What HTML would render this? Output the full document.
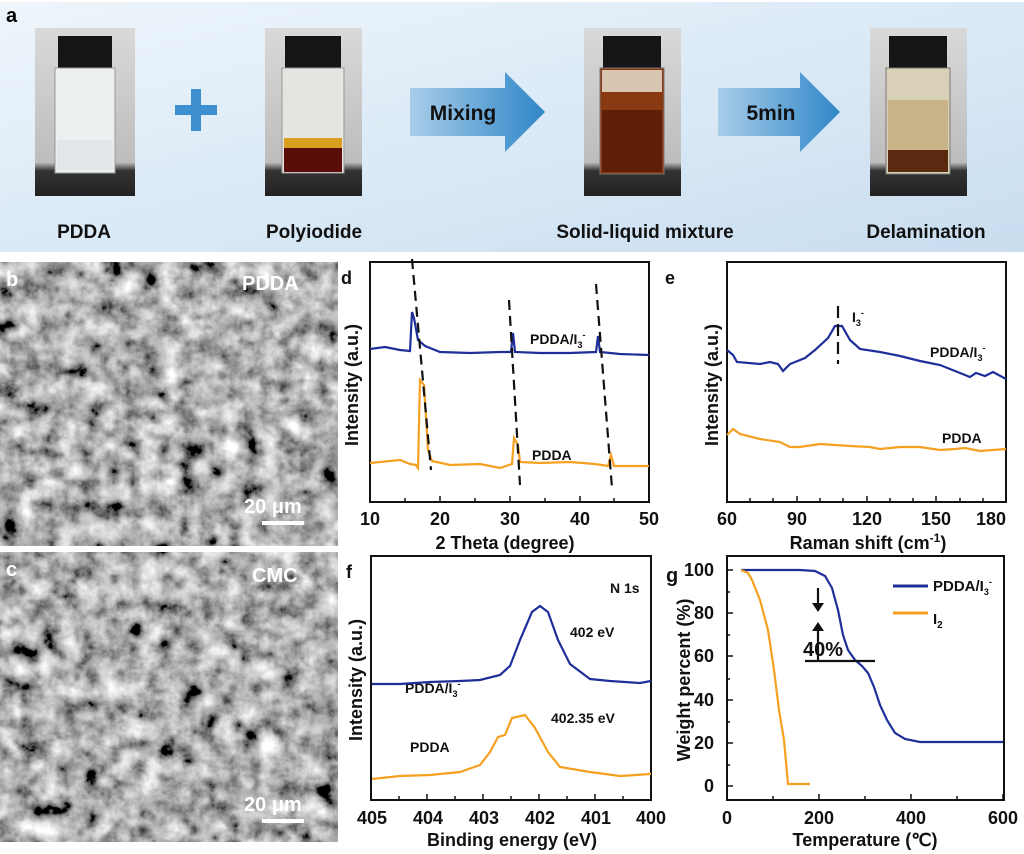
<!DOCTYPE html>
<html><head><meta charset="utf-8"><style>
body{margin:0;background:#fff;}
svg{display:block;font-family:"Liberation Sans",Arial,sans-serif;}
.b{font-weight:bold;}
</style></head><body>
<svg width="1024" height="854" viewBox="0 0 1024 854" xmlns="http://www.w3.org/2000/svg">
<defs>
<linearGradient id="bg" x1="0" y1="0" x2="1" y2="1">
<stop offset="0" stop-color="#eef5fb"/><stop offset="0.5" stop-color="#dbeaf6"/><stop offset="1" stop-color="#c9ddf0"/></linearGradient>
<linearGradient id="arr" x1="0" x2="1"><stop offset="0" stop-color="#a9cde9"/><stop offset="1" stop-color="#2f86c8"/></linearGradient>
<filter id="sem" x="0" y="0" width="100%" height="100%">
<feTurbulence type="fractalNoise" baseFrequency="0.05" numOctaves="4" seed="3"/>
<feColorMatrix type="matrix" values="0.33 0.33 0.33 0 0  0.33 0.33 0.33 0 0  0.33 0.33 0.33 0 0  0 0 0 0 1"/>
<feComponentTransfer><feFuncR type="linear" slope="2.6" intercept="-0.85"/><feFuncG type="linear" slope="2.6" intercept="-0.85"/><feFuncB type="linear" slope="2.6" intercept="-0.85"/></feComponentTransfer>
</filter>
<linearGradient id="photo" x1="0" x2="0" y1="0" y2="1"><stop offset="0" stop-color="#d9d9d9"/><stop offset="0.8" stop-color="#bdbdbd"/><stop offset="0.85" stop-color="#333"/><stop offset="1" stop-color="#222"/></linearGradient>
</defs>
<rect x="0" y="2" width="1024" height="250" fill="url(#bg)"/>
<text x="6" y="22" font-size="20" class="b">a</text>
<g>
<rect x="35" y="28" width="100" height="168" fill="url(#photo)"/>
<rect x="58" y="36" width="54" height="32" fill="#151515"/><rect x="55" y="68" width="60" height="105" fill="#eceff0" stroke="#999"/>
<rect x="57" y="140" width="56" height="30" fill="#e2e6e8"/>
<rect x="265" y="28" width="97" height="168" fill="url(#photo)"/>
<rect x="285" y="36" width="56" height="32" fill="#151515"/><rect x="282" y="68" width="62" height="105" fill="#e6e4e0" stroke="#999"/>
<rect x="284" y="138" width="58" height="10" fill="#d9a020"/><rect x="284" y="148" width="58" height="24" fill="#5a0c08"/>
<rect x="584" y="28" width="97" height="168" fill="url(#photo)"/>
<rect x="603" y="36" width="58" height="32" fill="#151515"/><rect x="600" y="68" width="64" height="106" fill="#8a3a12" stroke="#777"/>
<rect x="602" y="70" width="60" height="22" fill="#d8c6b0"/><rect x="602" y="110" width="60" height="62" fill="#5e1f08"/>
<rect x="870" y="28" width="97" height="168" fill="url(#photo)"/>
<rect x="889" y="36" width="58" height="32" fill="#151515"/><rect x="886" y="68" width="64" height="106" fill="#d9d0b8" stroke="#777"/>
<rect x="888" y="100" width="60" height="50" fill="#c9b48a"/><rect x="888" y="150" width="60" height="22" fill="#5a2a10"/>
</g>
<rect x="175" y="105" width="42" height="10" fill="#3e8fd0"/><rect x="191" y="89" width="10" height="42" fill="#3e8fd0"/>
<path d="M410 88 H505 V72 L545 112 L505 152 V136 H410 Z" fill="url(#arr)"/>
<text x="463" y="120" font-size="21" class="b" text-anchor="middle" fill="#111">Mixing</text>
<path d="M718 88 H800 V72 L840 112 L800 152 V136 H718 Z" fill="url(#arr)"/>
<text x="771" y="120" font-size="21" class="b" text-anchor="middle" fill="#111">5min</text>
<g font-size="19" class="b" text-anchor="middle" fill="#111">
<text x="84" y="238">PDDA</text><text x="314" y="238">Polyiodide</text>
<text x="645" y="238">Solid-liquid mixture</text><text x="926" y="238">Delamination</text></g>
<rect x="0" y="262" width="338" height="284" fill="#777" filter="url(#sem)"/>
<rect x="0" y="552" width="338" height="290" fill="#777" filter="url(#sem)"/>
<g fill="#fff" class="b" font-size="20">
<text x="6" y="286">b</text><text x="242" y="290">PDDA</text>
<text x="244" y="513">20 μm</text><rect x="262" y="521" width="42" height="4"/>
<text x="6" y="576">c</text><text x="252" y="582">CMC</text>
<text x="244" y="811">20 μm</text><rect x="262" y="819" width="42" height="4"/>
</g>
<g fill="none" stroke="#111" stroke-width="2">
<rect x="370" y="262" width="279" height="240"/>
<rect x="727" y="262" width="279" height="240"/>
<rect x="371" y="556" width="280" height="244"/>
<rect x="727" y="556" width="277" height="244"/>
</g>
<g stroke="#111" stroke-width="1.5">
<path d="M370 502v-6M405 502v-4M440 502v-6M475 502v-4M510 502v-6M545 502v-4M580 502v-6M614 502v-4M649 502v-6"/>
<path d="M727 502v-6M750 502v-4M773 502v-4M797 502v-6M820 502v-4M843 502v-4M867 502v-6M890 502v-4M913 502v-4M936 502v-6M960 502v-4M983 502v-4M1006 502v-6"/>
<path d="M371 800v-6M399 800v-4M427 800v-6M455 800v-4M483 800v-6M511 800v-4M539 800v-6M567 800v-4M595 800v-6M623 800v-4M651 800v-6"/>
<path d="M727 800v-6M773 800v-4M819 800v-6M865 800v-4M911 800v-6M957 800v-4M1003 800v-6M727 786h6M727 765h3M727 743h6M727 722h3M727 700h6M727 679h3M727 656h6M727 635h3M727 613h6M727 592h3M727 570h6"/>
</g>
<g font-size="18" class="b" text-anchor="middle" fill="#111">
<text x="370" y="525">10</text><text x="440" y="525">20</text><text x="510" y="525">30</text><text x="580" y="525">40</text><text x="649" y="525">50</text>
<text x="505" y="549">2 Theta (degree)</text>
<text x="727" y="525">60</text><text x="797" y="525">90</text><text x="867" y="525">120</text><text x="936" y="525">150</text><text x="1006" y="525" text-anchor="end">180</text>
<text x="868" y="549">Raman shift (cm<tspan font-size="12" dy="-7">-1</tspan><tspan dy="7">)</tspan></text>
<text x="372" y="824">405</text><text x="428" y="824">404</text><text x="484" y="824">403</text><text x="540" y="824">402</text><text x="596" y="824">401</text><text x="651" y="824">400</text>
<text x="512" y="846">Binding energy (eV)</text>
<text x="727" y="824">0</text><text x="819" y="824">200</text><text x="911" y="824">400</text><text x="1003" y="824">600</text>
<text x="865" y="846">Temperature (℃)</text>
</g>
<g font-size="18" class="b" text-anchor="end" fill="#111">
<text x="714" y="792">0</text><text x="714" y="749">20</text><text x="714" y="706">40</text><text x="714" y="662">60</text><text x="714" y="619">80</text><text x="714" y="576">100</text></g>
<g font-size="18" class="b" fill="#111">
<text x="341" y="284">d</text><text x="665" y="284">e</text><text x="346" y="578">f</text><text x="666" y="582" font-size="20">g</text>
<text transform="translate(358,385) rotate(-90)" text-anchor="middle">Intensity (a.u.)</text>
<text transform="translate(718,385) rotate(-90)" text-anchor="middle">Intensity (a.u.)</text>
<text transform="translate(362,680) rotate(-90)" text-anchor="middle">Intensity (a.u.)</text>
<text transform="translate(690,680) rotate(-90)" text-anchor="middle">Weight percent (%)</text>
</g>
<g font-size="14" class="b" fill="#111">
<text x="530" y="344">PDDA/I<tspan font-size="9" dy="4">3</tspan><tspan font-size="9" dy="-10">-</tspan></text>
<text x="532" y="460">PDDA</text>
<text x="852" y="322">I<tspan font-size="9" dy="4">3</tspan><tspan font-size="9" dy="-10">-</tspan></text>
<text x="930" y="357">PDDA/I<tspan font-size="9" dy="4">3</tspan><tspan font-size="9" dy="-10">-</tspan></text>
<text x="942" y="443">PDDA</text>
<text x="610" y="593">N 1s</text><text x="570" y="637">402 eV</text><text x="551" y="723">402.35 eV</text>
<text x="405" y="693">PDDA/I<tspan font-size="9" dy="4">3</tspan><tspan font-size="9" dy="-10">-</tspan></text>
<text x="410" y="752">PDDA</text>
<text x="933" y="591" font-size="15">PDDA/I<tspan font-size="9" dy="4">3</tspan><tspan font-size="9" dy="-10">-</tspan></text>
<text x="933" y="624" font-size="15">I<tspan font-size="10" dy="4">2</tspan></text>
<text x="803" y="656" font-size="20">40%</text>
</g>
<g fill="none" stroke-width="2.2">
<path stroke="#1f2f9a" d="M370 349 L385 347 L400 350 L410 351 L412 312 L414 318 L418 340 L425 346 L440 352 L470 353 L500 352 L511 352 L513 333 L515 352 L540 353 L570 353 L596 352 L598 336 L600 352 L620 354 L649 355"/>
<path stroke="#f5a020" d="M370 463 L390 461 L400 460 L410 464 L416 465 L418 468 L420 380 L424 385 L428 450 L432 461 L450 465 L480 464 L500 468 L512 464 L514 438 L518 445 L520 462 L540 463 L570 462 L595 464 L608 466 L611 455 L614 466 L649 466"/>
<path stroke="#111" stroke-dasharray="10,6" d="M412 259 L431 470M509 300 L520 485M596 284 L612 488"/>
<path stroke="#1f2f9a" d="M727 350 L733 355 L737 362 L760 364 L770 362 L778 364 L783 371 L790 364 L805 358 L815 350 L828 338 L835 326 L842 326 L850 340 L860 349 L880 352 L900 356 L920 361 L940 365 L950 369 L960 373 L970 377 L976 373 L985 376 L993 372 L1006 379"/>
<path stroke="#f5a020" d="M727 435 L733 429 L740 434 L760 439 L780 442 L790 447 L800 447 L820 444 L850 446 L870 447 L880 449 L900 447 L920 447 L940 450 L955 449 L965 448 L980 451 L1006 449"/>
<path stroke="#111" stroke-dasharray="12,6" d="M838 306 V364"/>
<path stroke="#1f2f9a" d="M372 684 L400 684 L430 682 L460 681 L480 680 L500 675 L510 666 L520 640 L532 612 L540 606 L548 612 L558 640 L570 664 L590 679 L610 681 L640 683 L651 681"/>
<path stroke="#f5a020" d="M372 779 L400 776 L430 775 L460 772 L480 765 L490 752 L498 737 L505 735 L512 718 L525 715 L535 728 L548 752 L560 767 L590 772 L620 776 L651 774"/>
<path stroke="#1f2f9a" d="M741 570 L800 570 L815 571 L825 576 L832 588 L838 610 L843 635 L848 650 L855 660 L862 666 L868 673 L874 687 L880 705 L887 720 L895 733 L905 739 L920 742 L1003 742"/>
<path stroke="#f5a020" d="M741 570 L748 573 L752 580 L760 600 L768 630 L774 670 L779 710 L784 740 L788 784 L810 784"/>
<path stroke="#1f2f9a" stroke-width="3" d="M893 586 H928"/>
<path stroke="#f5a020" stroke-width="3" d="M893 613 H928"/>
<path stroke="#111" d="M805 661 H875M818 661 V630M818 588 V605"/>
</g>
<path d="M812 603 L818 612 L824 603 Z M812 631 L818 622 L824 631 Z" fill="#111"/>
</svg>
</body></html>
